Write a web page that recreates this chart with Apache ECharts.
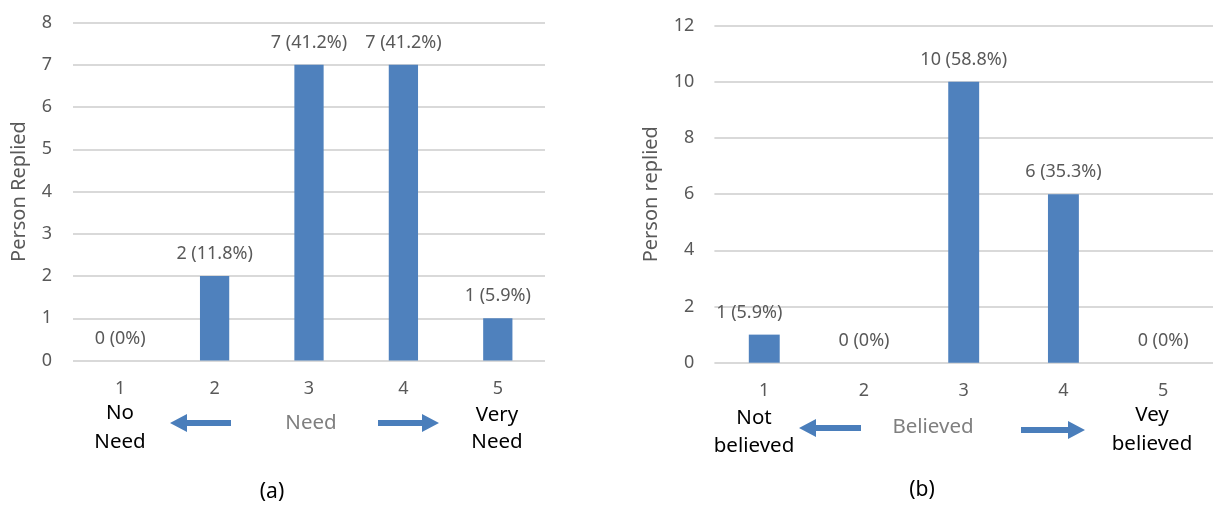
<!DOCTYPE html>
<html>
<head>
<meta charset="utf-8">
<script src="https://cdn.jsdelivr.net/npm/echarts@6/dist/echarts.min.js"></script>
<style>
  html, body { margin: 0; padding: 0; background: #fff; }
  #chart { width: 1213px; height: 505px; }
</style>
</head>
<body>
<div id="chart"></div>
<script>
// Survey scale categories (1 = lowest, 5 = highest)
const categories = ['1', '2', '3', '4', '5'];

// (a) Need
const needCounts = [0, 2, 7, 7, 1];
const needPercents = [0, 11.8, 41.2, 41.2, 5.9];
const needTicks = { min: 0, max: 8, interval: 1 };

// (b) Believed
const believedCounts = [1, 0, 10, 6, 0];
const believedPercents = [5.9, 0, 58.8, 35.3, 0];
const believedTicks = { min: 0, max: 12, interval: 2 };

const FONT = '"Noto Sans", "Open Sans", sans-serif';
const BAR = '#4F81BD';
const GRID_LINE = '#D9D9D9';
const TEXT_GRAY = '#595959';

function labelText(counts, pcts) {
  return p => counts[p.dataIndex] + ' (' + pcts[p.dataIndex] + '%)';
}

function xAxisFor(gridIndex) {
  return {
    type: 'category', gridIndex, data: categories,
    axisLine: { show: false }, axisTick: { show: false },
    axisLabel: { color: TEXT_GRAY, fontFamily: FONT, fontSize: 18, margin: 18, lineHeight: 20 }
  };
}

function yAxisFor(gridIndex, ticks, name, gap, labelMargin) {
  return {
    type: 'value', gridIndex, min: ticks.min, max: ticks.max, interval: ticks.interval,
    name, nameLocation: 'middle', nameRotate: 90, nameGap: gap,
    nameTextStyle: { color: TEXT_GRAY, fontFamily: FONT, fontSize: 20 },
    axisLine: { show: false }, axisTick: { show: false },
    axisLabel: { color: TEXT_GRAY, fontFamily: FONT, fontSize: 18, margin: labelMargin },
    splitLine: { lineStyle: { color: GRID_LINE, width: 2 } }
  };
}

function barSeries(index, counts, pcts, itemLabels) {
  return {
    type: 'bar', xAxisIndex: index, yAxisIndex: index,
    barWidth: '31%',
    itemStyle: { color: BAR },
    data: counts.map((v, i) => itemLabels && itemLabels[i] ? { value: v, label: itemLabels[i] } : v),
    label: {
      show: true, position: 'top', distance: 13,
      color: TEXT_GRAY, fontFamily: FONT, fontSize: 18,
      formatter: labelText(counts, pcts)
    }
  };
}

// Horizontal block arrow: shaft + triangular head
function arrow(x1, x2, y, dir) {
  const shaft = 3, head = 9, headLen = 17;
  let pts;
  if (dir < 0) {
    pts = [[x1, y], [x1 + headLen, y - head], [x1 + headLen, y - shaft], [x2, y - shaft],
           [x2, y + shaft], [x1 + headLen, y + shaft], [x1 + headLen, y + head]];
  } else {
    pts = [[x2, y], [x2 - headLen, y - head], [x2 - headLen, y - shaft], [x1, y - shaft],
           [x1, y + shaft], [x2 - headLen, y + shaft], [x2 - headLen, y + head]];
  }
  return { type: 'polygon', shape: { points: pts }, style: { fill: '#4A7EBB' }, silent: true };
}

function text(str, x, y, color, size, lh) {
  return {
    type: 'text', x, y, silent: true,
    style: {
      text: str, fill: color, font: size + 'px ' + FONT, lineHeight: lh || size * 1.3,
      align: 'center', verticalAlign: 'middle'
    }
  };
}

const chart = echarts.init(document.getElementById('chart'), null, { renderer: 'canvas' });

chart.setOption({
  animation: false,
  backgroundColor: '#ffffff',
  grid: [
    { left: 73, top: 22.5, width: 472, height: 338 },
    { left: 714.4, top: 25.7, width: 501, height: 337 }
  ],
  xAxis: [xAxisFor(0), xAxisFor(1)],
  yAxis: [
    yAxisFor(0, needTicks, 'Person Replied', 44, 21),
    yAxisFor(1, believedTicks, 'Person replied', 53, 20)
  ],
  series: [
    barSeries(0, needCounts, needPercents),
    barSeries(1, believedCounts, believedPercents, [{ offset: [-15, 0] }])
  ],
  graphic: [
    // (a) scale annotation
    text('No\nNeed', 120, 427.5, '#000', 20.5, 29),
    arrow(170, 231, 423, -1),
    text('Need', 311, 423, '#7F7F7F', 20.5),
    arrow(378, 439, 423, 1),
    text('Very\nNeed', 497, 428.5, '#000', 20.5, 27),
    text('(a)', 272, 492, '#000', 21),
    // (b) scale annotation
    text('Not\nbelieved', 754, 432, '#000', 20.5, 28),
    arrow(799, 861, 428, -1),
    text('Believed', 933, 427, '#7F7F7F', 20.5),
    arrow(1021, 1085, 430, 1),
    text('Vey\nbelieved', 1152, 429.5, '#000', 20.5, 29),
    text('(b)', 922, 490, '#000', 21)
  ]
});
</script>
</body>
</html>
